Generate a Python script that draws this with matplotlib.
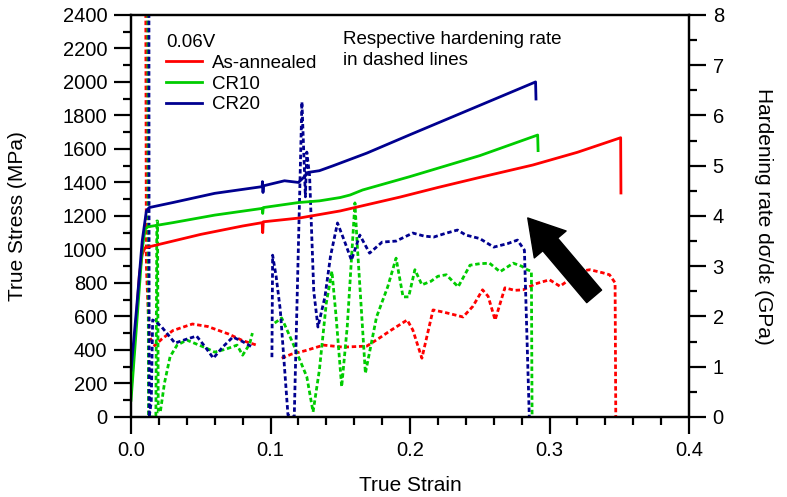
import numpy as np
import matplotlib
matplotlib.use('Agg')
import matplotlib.pyplot as plt
from matplotlib.ticker import MultipleLocator

plt.rcParams['font.family'] = ['Liberation Sans', 'DejaVu Sans']

# true stress-strain curves (MPa)
red_strain = [0, 0.003, 0.006, 0.008, 0.010, 0.02, 0.05, 0.08, 0.094, 0.0944, 0.0948, 0.121,
              0.15, 0.193, 0.22, 0.25, 0.288, 0.32, 0.351, 0.3512]
red_stress = [150, 500, 850, 970, 1010, 1030, 1090, 1140, 1160, 1100, 1165, 1188,
              1230, 1313, 1370, 1430, 1504, 1580, 1667, 1337]

green_strain = [0, 0.004, 0.008, 0.010, 0.012, 0.03, 0.06, 0.094, 0.0944, 0.0948, 0.12, 0.135,
                0.15, 0.157, 0.166, 0.2, 0.25, 0.2915, 0.2918]
green_stress = [100, 550, 1000, 1120, 1135, 1160, 1205, 1245, 1215, 1250, 1280, 1290,
                1310, 1325, 1355, 1435, 1560, 1683, 1590]

blue_strain = [0, 0.004, 0.008, 0.011, 0.013, 0.03, 0.06, 0.094, 0.0942, 0.0946, 0.095, 0.11,
               0.12, 0.125, 0.127, 0.135, 0.145, 0.169, 0.2, 0.25, 0.29, 0.2903]
blue_stress = [280, 650, 1050, 1230, 1250, 1280, 1335, 1375, 1405, 1340, 1380, 1410,
               1400, 1440, 1460, 1470, 1500, 1575, 1685, 1860, 2000, 1898]

# hardening rates (GPa), nan = gap
red_hs = [0.0105, 0.011, 0.013, 0.017, 0.022, 0.03, 0.044, 0.055, 0.07, 0.08, 0.09, np.nan,
          0.108, 0.115, 0.125, 0.138, 0.152, 0.169, 0.178, 0.186, 0.198, 0.202, 0.2085, 0.2165,
          0.225, 0.238, 0.245, 0.252, 0.256, 0.261, 0.268, 0.275, 0.281, 0.29, 0.3, 0.3075,
          0.315, 0.322, 0.329, 0.338, 0.343, 0.347, 0.3475]
red_hr = [9, 3.0, 1.6, 1.42, 1.55, 1.72, 1.85, 1.8, 1.65, 1.52, 1.43, np.nan,
          1.17, 1.25, 1.32, 1.43, 1.39, 1.41, 1.57, 1.72, 1.93, 1.73, 1.17, 2.13,
          2.08, 1.99, 2.2, 2.53, 2.4, 1.93, 2.57, 2.52, 2.53, 2.65, 2.73, 2.6,
          2.75, 2.9, 2.93, 2.87, 2.83, 2.67, 0]

green_hs = [0.012, 0.0125, 0.0178, 0.0185, 0.019, 0.0195, 0.021, 0.024, 0.028, 0.033, 0.04,
            0.047, 0.054, 0.06, 0.068, 0.076, 0.08, 0.085, 0.087, np.nan,
            0.103, 0.108, 0.116, 0.126, 0.1305, 0.135, 0.14, 0.144, 0.147, 0.151, 0.155, 0.159,
            0.1605, 0.162, 0.168, 0.176, 0.184, 0.19, 0.195, 0.199, 0.2035, 0.2085, 0.215,
            0.22, 0.226, 0.2345, 0.243, 0.25, 0.257, 0.2645, 0.274, 0.28, 0.284, 0.287, 0.2875]
green_hr = [9, 0, 0, 3.9, 3.9, 0.1, 0.1, 0.68, 1.2, 1.43, 1.53,
            1.45, 1.37, 1.29, 1.35, 1.43, 1.23, 1.45, 1.67, np.nan,
            1.87, 1.97, 1.47, 0.8, 0.1, 0.93, 2.27, 2.9, 2.0, 0.6, 1.8, 3.58,
            4.26, 3.5, 0.87, 1.99, 2.59, 3.16, 2.39, 2.39, 2.93, 2.63, 2.7,
            2.8, 2.83, 2.59, 3.02, 3.05, 3.06, 2.89, 3.06, 3.0, 2.93, 2.9, 0]

blue_hs = [0.0128, 0.013, 0.0145, 0.0155, 0.018, 0.022, 0.0315, 0.04, 0.047, 0.053, 0.059,
           0.066, 0.073, 0.08, 0.087, np.nan,
           0.101, 0.1015, 0.104, 0.107, 0.1125, 0.117, 0.1225, 0.125, 0.126, 0.128, 0.131,
           0.134, 0.139, 0.143, 0.148, 0.153, 0.158, 0.164, 0.171, 0.18, 0.19, 0.202, 0.21,
           0.217, 0.225, 0.234, 0.24, 0.25, 0.26, 0.27, 0.277, 0.282, 0.2855]
blue_hr = [9, 0, 0.3, 1.93, 1.89, 1.79, 1.47, 1.55, 1.61, 1.4, 1.17,
           1.4, 1.59, 1.5, 1.39, np.nan,
           1.19, 3.22, 2.8, 2.13, 0.04, 0, 6.27, 4.38, 5.27, 4.8, 2.5,
           1.79, 2.39, 3.2, 3.86, 3.5, 3.12, 3.62, 3.26, 3.48, 3.5, 3.66, 3.6,
           3.58, 3.65, 3.72, 3.62, 3.55, 3.38, 3.45, 3.52, 3.32, 0]

labels = ['As-annealed', 'CR10', 'CR20']
colors = ['#ff0000', '#00cc00', '#00008f']

fig = plt.figure(figsize=(7.87, 4.97), dpi=100)
ax = fig.add_axes([0.1665, 0.161, 0.709, 0.809])
ax2 = ax.twinx()

dash = (0, (1.6, 1.0))
for hs, hr, c in [(red_hs, red_hr, colors[0]), (green_hs, green_hr, colors[1]),
                  (blue_hs, blue_hr, colors[2])]:
    ax2.plot(hs, hr, color=c, lw=2, linestyle=dash)

lines = []
for s, st, c, lab in [(red_strain, red_stress, colors[0], labels[0]),
                      (green_strain, green_stress, colors[1], labels[1]),
                      (blue_strain, blue_stress, colors[2], labels[2])]:
    l, = ax.plot(s, st, color=c, lw=2, label=lab)
    lines.append(l)

ax.set_zorder(ax2.get_zorder() + 1)
ax.patch.set_visible(False)

ax.set_xlim(0, 0.4)
ax.set_ylim(0, 2400)
ax2.set_ylim(0, 8)

ax.xaxis.set_major_locator(MultipleLocator(0.1))
ax.xaxis.set_minor_locator(MultipleLocator(0.02))
ax.yaxis.set_major_locator(MultipleLocator(200))
ax.yaxis.set_minor_locator(MultipleLocator(100))
ax2.yaxis.set_major_locator(MultipleLocator(1))
ax2.yaxis.set_minor_locator(MultipleLocator(0.5))
ax.xaxis.set_major_formatter(plt.FuncFormatter(lambda v, p: '%.1f' % v))

for a in (ax, ax2):
    for sp in a.spines.values():
        sp.set_linewidth(1.6)
ax.tick_params(which='major', direction='out', length=12, width=1.6, labelsize=14.5, pad=5)
ax.tick_params(which='minor', direction='out', length=6, width=1.6)
ax.tick_params(top=False, right=False, which='both')
ax2.tick_params(which='major', direction='out', length=12, width=1.6, labelsize=14.5, pad=5)
ax2.tick_params(which='minor', direction='out', length=6, width=1.6)

ax.set_xlabel('True Strain', fontsize=15)
ax.xaxis.set_label_coords(0.5, -0.146)
ax.set_ylabel('True Stress (MPa)', fontsize=15)
ax.yaxis.set_label_coords(-0.186, 0.5)
ax2.set_ylabel('Hardening rate dσ/dε (GPa)', fontsize=15, rotation=270, va='bottom')
ax2.yaxis.set_label_coords(1.1165, 0.5)

leg = ax.legend(handles=lines, title='0.06V', loc='upper left', bbox_to_anchor=(0.063, 0.953),
                frameon=False, fontsize=13.5, title_fontsize=13.5, handlelength=1.9,
                handletextpad=0.55, labelspacing=0.2, borderpad=0, borderaxespad=0,
                alignment='left')

ax.text(0.379, 0.96, 'Respective hardening rate\nin dashed lines', transform=ax.transAxes,
        fontsize=13.5, va='top', ha='left', linespacing=1.3)

ax.annotate('', xy=(0.711, 0.495), xytext=(0.83, 0.30), xycoords='axes fraction',
            arrowprops=dict(arrowstyle='simple,head_width=0.6,head_length=0.5,tail_width=0.28',
                            mutation_scale=50, color='black', shrinkA=0, shrinkB=0))

fig.savefig('out.png', dpi=100)
